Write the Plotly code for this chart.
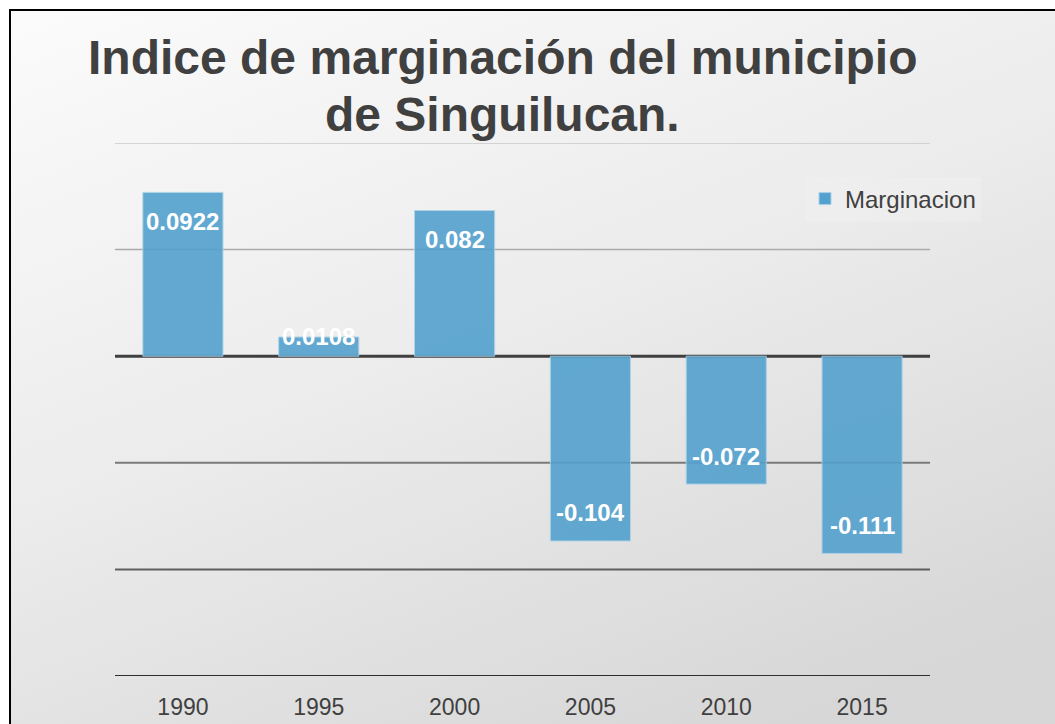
import base64
import plotly.graph_objects as go

# ---- data ----
years = ["1990", "1995", "2000", "2005", "2010", "2015"]
marginacion = [0.0922, 0.0108, 0.082, -0.104, -0.072, -0.111]
labels = ["0.0922", "0.0108", "0.082", "-0.104", "-0.072", "-0.111"]
series_name = "Marginacion"
title_lines = ["Indice de marginación del municipio", "de Singuilucan."]
grid_values = [0.12, 0.06, 0.0, -0.06, -0.12, -0.18]

# ---- style ----
W, H = 1055, 724
L, R, T, B = 115, 125, 143, 48
plot_w, plot_h = W - L - R, H - T - B
ymin, ymax = -0.18, 0.12
grid_colors = ["#c9c9c9", "#ababab", "#3f3f3f", "#7a7a7a", "#5e5e5e", "#2e2e2e"]
grid_widths = [1.5, 1.5, 3, 2, 2, 2]
FONT = "Liberation Sans, Arial, Helvetica, sans-serif"
TXT = "#404040"

fig = go.Figure()
fig.add_trace(go.Bar(
    x=years, y=marginacion, name=series_name,
    marker=dict(color="#53a1ce", opacity=0.9, line=dict(color="#a9d0e8", width=1)),
    showlegend=True, hoverinfo="skip",
))

# data labels (inside end, clamped for short bars)
px_per_unit = plot_h / (ymax - ymin)
for i, (v, lab) in enumerate(zip(marginacion, labels)):
    h = abs(v) * px_per_unit
    if v >= 0:
        shift = -min(29, h - 20)
    else:
        shift = min(28, h - 20)
    fig.add_annotation(x=i, y=v, xref="x", yref="y", text="<b>%s</b>" % lab,
                       showarrow=False, yshift=shift, yanchor="middle",
                       font=dict(family=FONT, size=24, color="white"))

# gridlines
for gv, gc, gw in zip(grid_values, grid_colors, grid_widths):
    fig.add_shape(type="line", xref="paper", yref="y", x0=0, x1=1, y0=gv, y1=gv,
                  line=dict(color=gc, width=gw), layer="below")

# title
title_x = (502 - L) / plot_w
for line, py in zip(title_lines, [58, 114]):
    fig.add_annotation(x=title_x, y=(H - B - py) / plot_h, xref="paper", yref="paper",
                       text="<b>%s</b>" % line, showarrow=False, xanchor="center",
                       yanchor="middle", font=dict(family=FONT, size=48, color=TXT))

# background gradient + border
svg = (
    "<svg xmlns='http://www.w3.org/2000/svg' width='%d' height='%d'>"
    "<defs><linearGradient id='g' x1='0' y1='0' x2='0.55' y2='1'>"
    "<stop offset='0' stop-color='#fbfbfb'/><stop offset='0.5' stop-color='#ececec'/>"
    "<stop offset='1' stop-color='#d7d7d7'/></linearGradient></defs>"
    "<rect width='%d' height='%d' fill='white'/>"
    "<rect x='10' y='10' width='%d' height='%d' fill='url(#g)' stroke='black' stroke-width='2'/>"
    "</svg>" % (W, H, W, H, W + 50, H + 50)
)
src = "data:image/svg+xml;base64," + base64.b64encode(svg.encode()).decode()
fig.add_layout_image(source=src, xref="paper", yref="paper",
                     x=-L / plot_w, y=(H - B) / plot_h, sizex=W / plot_w, sizey=H / plot_h,
                     xanchor="left", yanchor="top", sizing="stretch", layer="below")

fig.update_layout(
    width=W, height=H,
    margin=dict(l=L, r=R, t=T, b=B, pad=0, autoexpand=False),
    paper_bgcolor="white", plot_bgcolor="rgba(0,0,0,0)",
    bargap=0.41,
    font=dict(family=FONT, color=TXT),
    showlegend=True,
    legend=dict(x=(805 - L) / plot_w, y=(H - B - 199) / plot_h, xanchor="left", yanchor="middle",
                bgcolor="rgba(255,255,255,0.15)", font=dict(family=FONT, size=24, color=TXT),
                borderwidth=0),
    xaxis=dict(type="category", range=[-0.5, len(years) - 0.5], autorange=False,
               showgrid=False, zeroline=False, showline=False,
               ticks="outside", ticklen=10, automargin=False,
               tickcolor="rgba(0,0,0,0)", tickfont=dict(family=FONT, size=23, color=TXT),
               fixedrange=True),
    yaxis=dict(range=[ymin, ymax], showgrid=False, zeroline=False, showline=False,
               showticklabels=False, ticks="", fixedrange=True, automargin=False),
)

fig.write_html("out.html", config={"displayModeBar": False},
               post_script="document.body.style.margin='0';document.body.style.overflow='hidden';")
